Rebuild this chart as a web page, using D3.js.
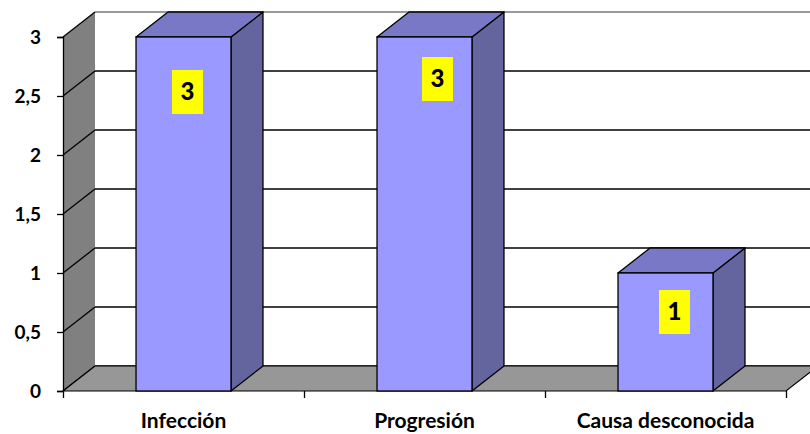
<!DOCTYPE html>
<html>
<head>
<meta charset="utf-8">
<script src="https://cdn.jsdelivr.net/npm/d3@7"></script>
<style>
  body { margin: 0; background: #fff; }
  text { font-family: Lato, "Open Sans", sans-serif; font-weight: bold; fill: #000; }
</style>
</head>
<body>
<div id="chart"></div>
<script>
// data
var categories = ["Infección", "Progresión", "Causa desconocida"];
var values = [3, 3, 1];
var yTicks = [0, 0.5, 1, 1.5, 2, 2.5, 3];

(function() {
  var width = 810, height = 434;
  var pLeft = 63, pRight = 786, pBottom = 391, pTop = 37;
  var depthX = 32, depthY = 25;   // 3d offset of the back wall

  var svg = d3.select("#chart").append("svg")
    .attr("width", width)
    .attr("height", height);

  var y = d3.scaleLinear().domain([0, 3]).range([pBottom, pTop]);
  var x = d3.scaleBand().domain(categories).range([pLeft, pRight]).padding(0);
  var barW = x.bandwidth() * 0.394;

  var comma = d3.formatLocale({ decimal: ",", thousands: ".", grouping: [3], currency: ["", "€"] }).format("~g");

  // back wall
  svg.append("rect")
    .attr("x", pLeft + depthX).attr("y", pTop - depthY)
    .attr("width", pRight - pLeft).attr("height", pBottom - pTop)
    .attr("fill", "#fff");

  // gridlines on back wall
  svg.selectAll(".grid")
    .data(yTicks)
    .enter().append("line")
    .attr("class", "grid")
    .attr("x1", pLeft + depthX).attr("x2", pRight + depthX)
    .attr("y1", function(d) { return y(d) - depthY; })
    .attr("y2", function(d) { return y(d) - depthY; })
    .attr("stroke", function(d) { return d === 3 ? "#777" : "#000"; })
    .attr("stroke-width", 1.5);

  // left wall
  svg.append("polygon")
    .attr("points", [[pLeft, pBottom], [pLeft, pTop], [pLeft + depthX, pTop - depthY], [pLeft + depthX, pBottom - depthY]].join(" "))
    .attr("fill", "#808080");

  svg.selectAll(".diag")
    .data(yTicks)
    .enter().append("line")
    .attr("class", "diag")
    .attr("x1", pLeft).attr("x2", pLeft + depthX)
    .attr("y1", function(d) { return y(d); })
    .attr("y2", function(d) { return y(d) - depthY; })
    .attr("stroke", "#000")
    .attr("stroke-width", 1.3);

  // floor
  svg.append("polygon")
    .attr("points", [[pLeft, pBottom], [pRight, pBottom], [pRight + depthX, pBottom - depthY], [pLeft + depthX, pBottom - depthY]].join(" "))
    .attr("fill", "#979797")
    .attr("stroke", "#000")
    .attr("stroke-width", 1.2);

  // bars
  var bars = svg.selectAll(".bar")
    .data(categories)
    .enter().append("g")
    .attr("class", "bar");

  function bx(d) { return x(d) + x.bandwidth() / 2 - barW / 2; }

  bars.append("polygon")   // side
    .attr("points", function(d, i) {
      var x0 = bx(d) + barW, y0 = y(values[i]);
      return [[x0, pBottom], [x0, y0], [x0 + depthX, y0 - depthY], [x0 + depthX, pBottom - depthY]].join(" ");
    })
    .attr("fill", "#64649f")
    .attr("stroke", "#000").attr("stroke-width", 1.3).attr("stroke-linejoin", "round");

  bars.append("polygon")   // top
    .attr("points", function(d, i) {
      var x0 = bx(d), y0 = y(values[i]);
      return [[x0, y0], [x0 + barW, y0], [x0 + barW + depthX, y0 - depthY], [x0 + depthX, y0 - depthY]].join(" ");
    })
    .attr("fill", "#7878c6")
    .attr("stroke", "#000").attr("stroke-width", 1.3).attr("stroke-linejoin", "round");

  bars.append("rect")      // front
    .attr("x", bx)
    .attr("y", function(d, i) { return y(values[i]); })
    .attr("width", barW)
    .attr("height", function(d, i) { return pBottom - y(values[i]); })
    .attr("fill", "#9999ff")
    .attr("stroke", "#000").attr("stroke-width", 1.3);

  // value labels (hand placed in the original, nudged from the bar centre)
  var nudge = [[-11.5, 33], [-2.5, 20], [-6.5, 17]];
  var lab = bars.append("g")
    .attr("transform", function(d, i) {
      return "translate(" + (x(d) + x.bandwidth() / 2 + nudge[i][0]) + "," + (y(values[i]) + nudge[i][1]) + ")";
    });
  lab.append("rect")
    .attr("width", 31).attr("height", 44)
    .attr("fill", "#ffff00");
  lab.append("text")
    .attr("x", 15.5).attr("y", 30)
    .attr("text-anchor", "middle")
    .style("font-size", "24px")
    .style("font-weight", "900")
    .text(function(d, i) { return values[i]; });

  // y axis
  var yAxis = svg.append("g")
    .attr("transform", "translate(" + pLeft + ",0)")
    .call(d3.axisLeft(y).tickValues(yTicks).tickSize(6).tickPadding(16).tickFormat(comma));
  yAxis.select(".domain").attr("stroke", "#000").attr("stroke-width", 1.3);
  yAxis.selectAll(".tick line").attr("stroke", "#000").attr("stroke-width", 1.3);
  yAxis.selectAll("text").style("font-size", "19px").style("font-family", "Lato, sans-serif");

  // x axis: boundary ticks and category names
  var xb = d3.scaleLinear().domain([0, 3]).range([pLeft, pRight]);
  var xAxis = svg.append("g")
    .attr("transform", "translate(0," + pBottom + ")")
    .call(d3.axisBottom(xb).tickValues([0, 1, 2, 3]).tickSize(7).tickFormat(""));
  xAxis.select(".domain").remove();
  xAxis.selectAll(".tick line").attr("stroke", "#000").attr("stroke-width", 1.3);

  svg.append("g")
    .attr("transform", "translate(0," + pBottom + ")")
    .call(d3.axisBottom(x).tickSize(0).tickPadding(22))
    .call(function(g) { g.select(".domain").remove(); })
    .selectAll("text")
    .style("font-size", "21px")
    .style("font-family", "Lato, sans-serif");
})();
</script>
</body>
</html>
